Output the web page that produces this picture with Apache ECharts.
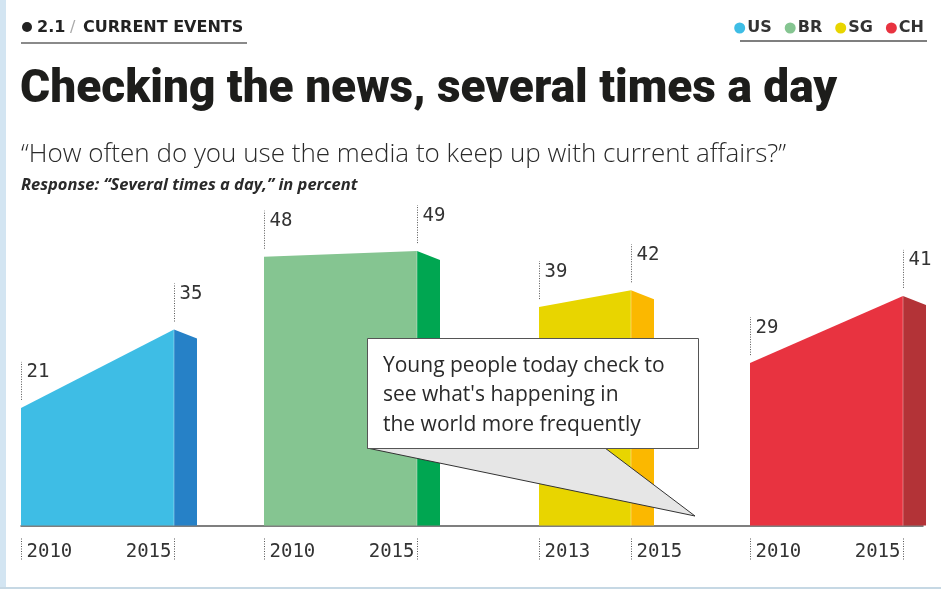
<!DOCTYPE html>
<html>
<head>
<meta charset="utf-8">
<script src="https://cdn.jsdelivr.net/npm/echarts@6/dist/echarts.min.js"></script>
<style>
  html, body { margin: 0; padding: 0; background: #fff; }
  #chart { width: 941px; height: 589px; }
</style>
</head>
<body>
<div id="chart"></div>
<script>
// Share answering "Several times a day", in percent
const countries   = ['US', 'BR', 'SG', 'CH'];
const startYears  = ['2010', '2010', '2013', '2010'];
const endYears    = ['2015', '2015', '2015', '2015'];
const startValues = [21, 48, 39, 29];
const endValues   = [35, 49, 42, 41];

// Horizontal layout of each country block along the x axis (axis units)
const blockStart = [0, 243, 518, 729];
const blockSpan  = [153, 153, 92, 153];

const frontColors = ['#3ebde5', '#85c591', '#e8d500', '#e83340'];
const sideColors  = ['#2681c7', '#00a651', '#fbb800', '#b33337'];

const NUM_FONT = '"DejaVu Sans Mono", monospace';
const DEPTH = 23, DROP = 9;

function renderBlock(params, api) {
  const i = params.seriesIndex;
  const xs = api.value(0), xe = api.value(1), v0 = api.value(2), v1 = api.value(3);
  const p0 = api.coord([xs, v0]);
  const p1 = api.coord([xe, v1]);
  const baseY = api.coord([xs, 0])[1];
  const children = [];

  // front face
  children.push({
    type: 'polygon',
    shape: { points: [[p0[0], baseY], p0, p1, [p1[0], baseY]] },
    style: { fill: frontColors[i] }
  });
  // side face
  children.push({
    type: 'polygon',
    shape: { points: [[p1[0], baseY], p1, [p1[0] + DEPTH, p1[1] + DROP], [p1[0] + DEPTH, baseY]] },
    style: { fill: sideColors[i] }
  });
  // seam between faces
  children.push({
    type: 'line',
    shape: { x1: p1[0], y1: p1[1], x2: p1[0], y2: baseY },
    style: { stroke: 'rgba(255,255,255,0.35)', lineWidth: 1 }
  });

  // value markers
  [[p0, startValues[i]], [p1, endValues[i]]].forEach(([p, v]) => {
    const x = Math.round(p[0]) + 0.5;
    children.push({
      type: 'line',
      shape: { x1: x, y1: p[1] - 8, x2: x, y2: p[1] - 46 },
      style: { stroke: '#555', lineWidth: 1, lineDash: [1, 1.5] }
    });
    children.push({
      type: 'text',
      style: {
        x: x + 5, y: p[1] - 45, text: String(v),
        font: '19px ' + NUM_FONT, fill: '#333',
        align: 'left', verticalAlign: 'top'
      }
    });
  });

  // year ticks under the axis
  const axisY = baseY + 12;
  const wide = blockSpan[i] > 120;
  [[p0[0], startYears[i], 'left'], [p1[0], endYears[i], wide ? 'right' : 'left']].forEach(([px, yr, al]) => {
    const x = Math.round(px) + 0.5;
    children.push({
      type: 'line',
      shape: { x1: x, y1: axisY + 1, x2: x, y2: axisY + 22 },
      style: { stroke: '#555', lineWidth: 1, lineDash: [1, 1.5] }
    });
    children.push({
      type: 'text',
      style: {
        x: al === 'left' ? x + 5 : x - 3, y: axisY + 15, text: yr,
        font: '19px ' + NUM_FONT, fill: '#333',
        align: al, verticalAlign: 'middle'
      }
    });
  });

  return { type: 'group', children };
}

const series = countries.map((c, i) => ({
  name: c,
  type: 'custom',
  renderItem: renderBlock,
  itemStyle: { color: frontColors[i] },
  data: [[blockStart[i], blockStart[i] + blockSpan[i], startValues[i], endValues[i]]],
  encode: { x: [0, 1], y: [2, 3] },
  clip: false,
  silent: true
}));

const chart = echarts.init(document.getElementById('chart'), null, { renderer: 'canvas' });

const calloutLines = ['Young people today check to', "see what's happening in", 'the world more frequently'];

chart.setOption({
  animation: false,
  backgroundColor: '#ffffff',
  grid: { left: 21, right: 18, top: 189.5, bottom: 63.5 },
  xAxis: {
    type: 'value', min: 0, max: 902, offset: 12,
    axisLine: { show: true, lineStyle: { color: '#555', width: 1.5 } },
    axisTick: { show: false }, axisLabel: { show: false }, splitLine: { show: false }
  },
  yAxis: {
    type: 'value', min: 0, max: 60, show: false
  },
  legend: {
    data: countries,
    top: 15, right: 12,
    icon: 'circle', itemWidth: 11, itemHeight: 11, itemGap: 13,
    selectedMode: false,
    textStyle: { fontFamily: 'DejaVu Sans', fontWeight: 'bold', fontSize: 16, color: '#333', padding: [0, 0, 0, -3] }
  },
  series,
  graphic: [
    // page edges
    { type: 'rect', shape: { x: 0, y: 0, width: 6, height: 589 }, style: { fill: '#d3e5f2' }, silent: true },
    { type: 'rect', shape: { x: 0, y: 587, width: 941, height: 2 }, style: { fill: '#c6d8e4' }, silent: true },

    // section header
    { type: 'circle', shape: { cx: 27, cy: 27, r: 5 }, style: { fill: '#222' } },
    { type: 'text', style: { x: 37, y: 28, text: '2.1', font: 'bold 16px "DejaVu Sans"', fill: '#222', verticalAlign: 'middle' } },
    { type: 'text', style: { x: 70, y: 28, text: '/', font: '16px "DejaVu Sans"', fill: '#aaa', verticalAlign: 'middle' } },
    { type: 'text', style: { x: 83, y: 28, text: 'CURRENT EVENTS', font: 'bold 16px "DejaVu Sans"', fill: '#222', verticalAlign: 'middle' } },
    { type: 'line', shape: { x1: 21, y1: 43, x2: 247, y2: 43 }, style: { stroke: '#8a8a8a', lineWidth: 2 } },
    { type: 'line', shape: { x1: 740, y1: 41, x2: 927, y2: 41 }, style: { stroke: '#555', lineWidth: 1.5 } },

    // title and question
    { type: 'text', style: { x: 20, y: 90, text: 'Checking the news, several times a day', font: '900 46px Roboto', fill: '#1d1d1b', verticalAlign: 'middle' } },
    { type: 'text', style: { x: 21, y: 155, text: '\u201cHow often do you use the media to keep up with current affairs?\u201d', font: '300 26px "Open Sans"', fill: '#2a2a2a', verticalAlign: 'middle' } },
    { type: 'text', style: { x: 21, y: 185, text: 'Response: \u201cSeveral times a day,\u201d in percent', font: 'italic bold 16.5px "Open Sans"', fill: '#2a2a2a', verticalAlign: 'middle' } },

    // callout
    { type: 'polygon', z: 100, shape: { points: [[367, 448], [605, 448], [695, 516]] }, style: { fill: '#e6e6e6', stroke: '#333', lineWidth: 1 } },
    { type: 'rect', z: 101, shape: { x: 367.5, y: 338.5, width: 331, height: 110 }, style: { fill: '#fff', stroke: '#555', lineWidth: 1 } },
    ...calloutLines.map((t, k) => ({
      type: 'text', z: 102,
      style: { x: 383, y: 366 + k * 29.5, text: t, font: '21px "Open Sans"', fill: '#2a2a2a', verticalAlign: 'middle' }
    }))
  ]
});
</script>
</body>
</html>
